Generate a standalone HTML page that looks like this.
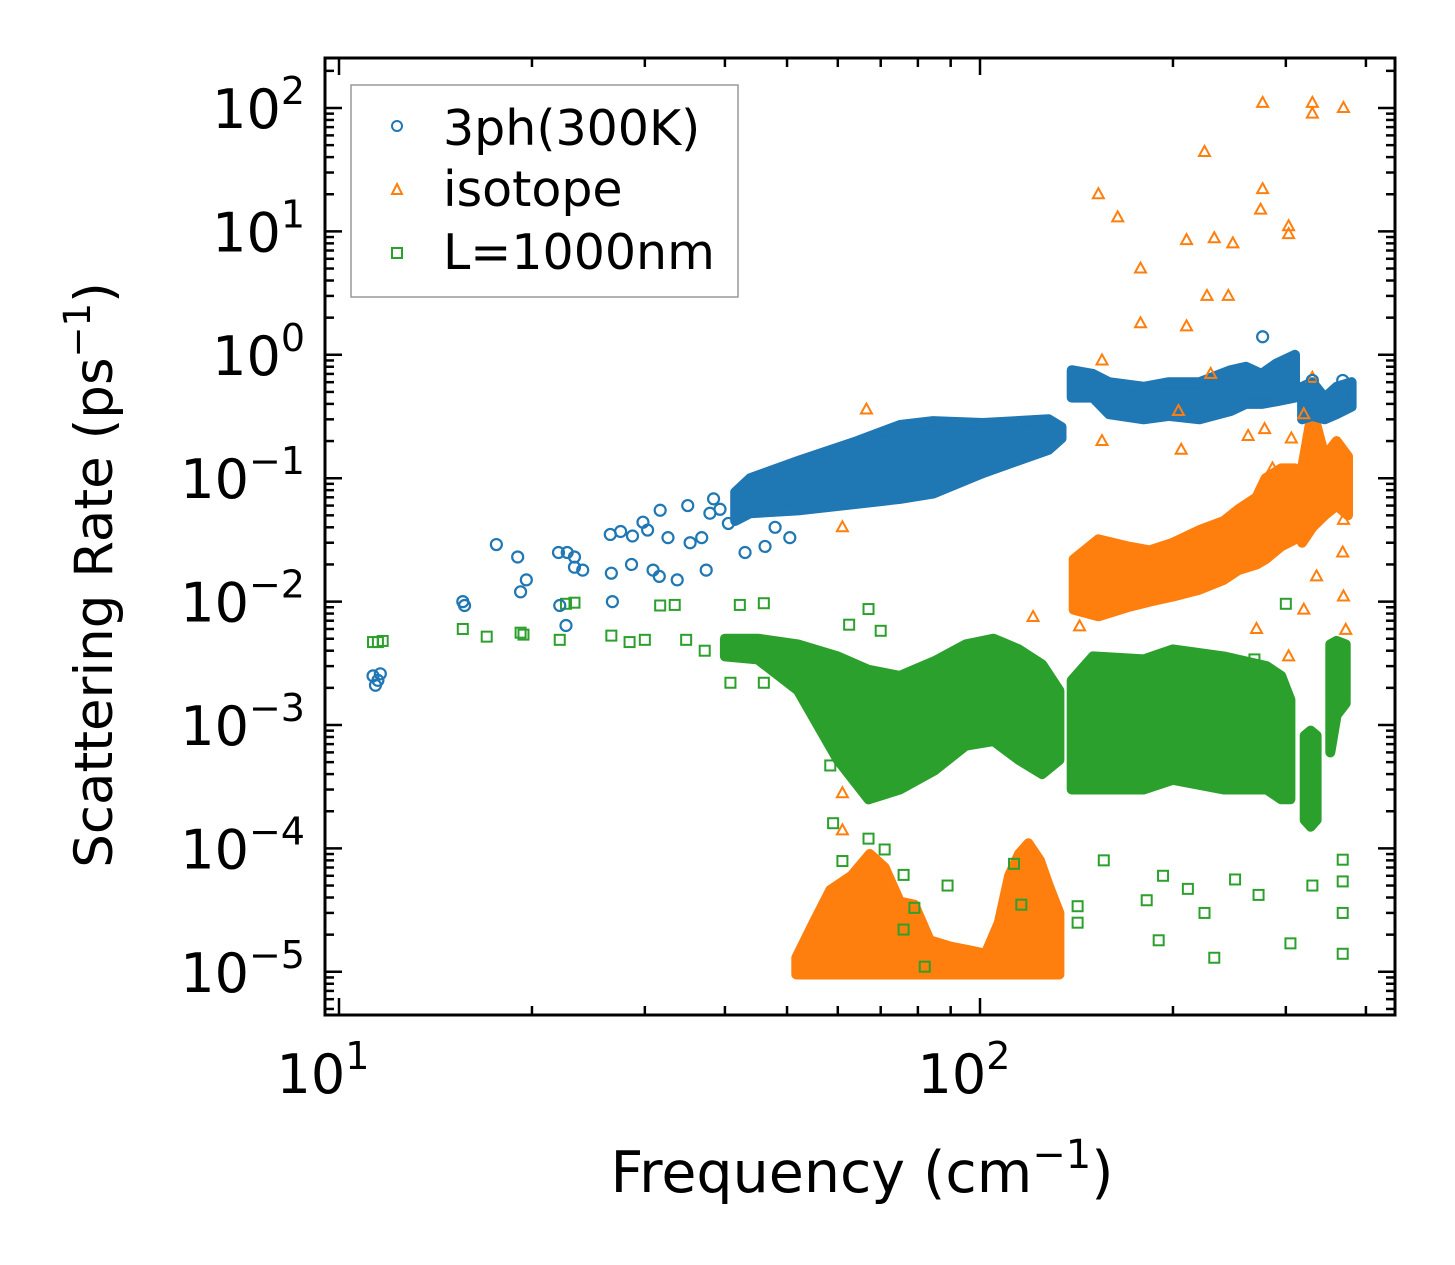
<!DOCTYPE html>
<html><head><meta charset="utf-8">
<style>
html,body{margin:0;padding:0;background:#fff;}
svg{display:block;font-family:"DejaVu Sans","Liberation Sans",sans-serif;}
</style></head>
<body>
<svg id="chart" width="1455" height="1265" viewBox="0 0 1455 1265" xmlns="http://www.w3.org/2000/svg">
<g id="bands"></g>
<g id="points"></g>
<g id="axes"></g>
<text x="112" y="575" font-size="53" text-anchor="middle" transform="rotate(-90 112 575)">Scattering Rate (ps<tspan dy="-22" font-size="37">−1</tspan><tspan dy="22">)</tspan></text>
<text x="862" y="1192" font-size="57" text-anchor="middle">Frequency (cm<tspan dy="-24" font-size="40">−1</tspan><tspan dy="24">)</tspan></text>
<g>
<rect x="351" y="85" width="387" height="212" fill="#fff" stroke="#999" stroke-width="1.5"/>
<circle cx="397" cy="126" r="5" fill="none" stroke="#1f77b4" stroke-width="2"/>
<text x="443" y="145" font-size="49">3ph(300K)</text>
<path d="M397,184 L402,194 L392,194 Z" fill="none" stroke="#ff7f0e" stroke-width="2"/>
<text x="443" y="206" font-size="49">isotope</text>
<rect x="392" y="248" width="10" height="10" fill="none" stroke="#2ca02c" stroke-width="2"/>
<text x="443" y="269" font-size="49">L=1000nm</text>
</g>
</svg>
<script>
// axis ticks
const xMajorTicks = [10, 100];
const xTickLabels = ["1", "2"];
const yMajorTicks = [-5, -4, -3, -2, -1, 0, 1, 2];
const yTickLabels = ["−5", "−4", "−3", "−2", "−1", "0", "1", "2"];

// 3ph (blue) sparse points
const blueFreq = [11.3,11.4,11.6,11.5,15.6,15.7,17.6,19.0,19.2,19.6,22.0,22.7,23.3,22.1,22.6,23.3,24.0,26.5,27.5,28.7,26.6,26.7,28.6,29.8,30.3,30.9,31.7,31.6,32.6,33.7,35.0,35.3,36.8,37.4,37.9,38.4,39.3,40.5,43.0,46.2,47.9,50.5,276,330,368];
const blueRate = [0.0025,0.0021,0.0026,0.0023,0.010,0.0093,0.029,0.023,0.012,0.015,0.025,0.025,0.023,0.0093,0.0064,0.019,0.018,0.035,0.037,0.034,0.017,0.010,0.020,0.044,0.038,0.018,0.055,0.016,0.033,0.015,0.060,0.030,0.033,0.018,0.052,0.068,0.056,0.043,0.025,0.028,0.040,0.033,1.4,0.62,0.62];
// 3ph dense bands
const blueAFreq = [41.5,43.8,52.4,64.3,75,84.5,101,128,134];
const blueAHi = [0.077,0.10,0.14,0.20,0.27,0.29,0.28,0.30,0.26];
const blueALo = [0.045,0.052,0.055,0.062,0.068,0.075,0.11,0.17,0.21];
const blueBFreq = [139,150,159,180,197,220,246,260,275,290,310];
const blueBHi = [0.75,0.7,0.6,0.55,0.6,0.6,0.75,0.8,0.7,0.85,1.0];
const blueBLo = [0.45,0.45,0.33,0.3,0.32,0.3,0.35,0.4,0.4,0.42,0.45];
const blueCFreq = [318,330,345,360,380];
const blueCHi = [0.55,0.6,0.45,0.55,0.6];
const blueCLo = [0.3,0.32,0.3,0.33,0.38];

// isotope (orange) sparse points
const orangeFreq = [153,164,178,178,210,210,224,232,248,226,244,276,276,274,303,303,330,330,369,155,155,204,206,229,262,278,286,306,320,330,66.5,61,142,143,121,303,320,372,369,368,335,270,369,61,61];
const orangeRate = [20,13,5,1.8,8.5,1.7,44,8.8,8,3,3,110,22,15,11,9.5,110,90,100,0.9,0.2,0.35,0.17,0.7,0.22,0.25,0.12,0.21,0.33,0.65,0.36,0.04,0.0095,0.0063,0.0075,0.0036,0.0086,0.0059,0.011,0.025,0.016,0.006,0.046,0.00014,0.00028];
// isotope dense bands
const orangeAFreq = [51.7,55,58.4,63,67.3,71,75,79,83.5,90,96,102,107,111,115,119,124,128,133];
const orangeAHi = [1.3e-5,2.5e-5,4.6e-5,6e-5,9e-5,7e-5,3.7e-5,3.5e-5,1.8e-5,1.6e-5,1.5e-5,1.4e-5,2.5e-5,6e-5,9e-5,1.1e-4,8e-5,5e-5,3e-5];
const orangeALo = [9.5e-6,9.5e-6,9.5e-6,9.5e-6,9.5e-6,9.5e-6,9.5e-6,9.5e-6,9.5e-6,9.5e-6,9.5e-6,9.5e-6,9.5e-6,9.5e-6,9.5e-6,9.5e-6,9.5e-6,9.5e-6,9.5e-6];
const orangeBFreq = [140,153,170,184,200,220,240,253,270,279,295,310];
const orangeBHi = [0.022,0.032,0.028,0.026,0.03,0.038,0.045,0.056,0.07,0.1,0.12,0.12];
const orangeBLo = [0.0086,0.0076,0.009,0.01,0.011,0.0125,0.015,0.018,0.02,0.022,0.028,0.032];
const orangeCFreq = [318,330,345,360,375];
const orangeCHi = [0.12,0.36,0.15,0.2,0.15];
const orangeCLo = [0.03,0.04,0.05,0.06,0.05];

// L=1000nm (green) sparse points
const greenFreq = [11.3,11.5,11.7,15.6,17.0,19.2,19.4,22.1,22.6,23.3,26.6,28.4,30,31.7,33.4,34.8,37.2,40.8,42.2,46,58.4,59,61,67,71,76,79,82,89,76,113,116,142,142,156,182,193,211,224,232,272,305,190,250,368,368,368,368,330,67,70,62.5,60,56,46,268,300,243];
const greenRate = [0.0047,0.0047,0.0048,0.006,0.0052,0.0056,0.0054,0.0049,0.0096,0.0098,0.0053,0.0047,0.0049,0.0093,0.0094,0.0049,0.004,0.0022,0.0094,0.0097,4.7e-4,1.6e-4,7.9e-5,1.2e-4,9.8e-5,6.1e-5,3.3e-5,1.1e-5,5e-5,2.2e-5,7.5e-5,3.5e-5,3.4e-5,2.5e-5,8e-5,3.8e-5,6e-5,4.7e-5,3e-5,1.3e-5,4.2e-5,1.7e-5,1.8e-5,5.6e-5,5.4e-5,3e-5,1.4e-5,8.1e-5,5e-5,0.0087,0.0058,0.0065,0.002,0.0016,0.0022,0.0034,0.0096,0.0034];
// green dense bands
const greenAFreq = [40,45,52,60,67,75,85,95,105,115,125,133];
const greenAHi = [0.005,0.005,0.0045,0.0036,0.0028,0.0025,0.0033,0.0045,0.005,0.0041,0.0031,0.0019];
const greenALo = [0.0036,0.0034,0.0019,5.2e-4,2.5e-4,3.0e-4,4.3e-4,6.8e-4,7.4e-4,5.2e-4,4.0e-4,5.2e-4];
const greenBFreq = [139,150,180,200,240,280,295,305];
const greenBHi = [0.0023,0.0036,0.0034,0.0041,0.0036,0.003,0.0025,0.0016];
const greenBLo = [3e-4,3e-4,3e-4,3.6e-4,3e-4,3e-4,2.5e-4,2.5e-4];
const greenCFreq = [321,328,335];
const greenCHi = [8.2e-4,9e-4,8.2e-4];
const greenCLo = [1.7e-4,1.5e-4,1.7e-4];
const greenDFreq = [352,360,372];
const greenDHi = [0.0045,0.0048,0.0045];
const greenDLo = [0.0006,0.0012,0.0015];

const NS = "http://www.w3.org/2000/svg";
const X0 = 339, XDEC = 641, YREF = 108, YDEC = 123.4;
const L = 325, R = 1395, T = 58, B = 1015;
function sx(f){ return X0 + XDEC * Math.log10(f / 10); }
function sy(r){ return YREF + YDEC * (2 - Math.log10(r)); }
function mk(tag, attrs, parent){
  const e = document.createElementNS(NS, tag);
  for (const k in attrs) e.setAttribute(k, attrs[k]);
  parent.appendChild(e);
  return e;
}

const bands = document.getElementById('bands');
function band(fr, lo, hi, color, name){
  let d = "M" + fr.map((f,i)=> sx(f).toFixed(1) + "," + sy(hi[i]).toFixed(1)).join(" L");
  for (let i = fr.length - 1; i >= 0; i--) d += " L" + sx(fr[i]).toFixed(1) + "," + sy(lo[i]).toFixed(1);
  d += " Z";
  const p = mk('path', {d: d, fill: color, stroke: color, 'stroke-width': 10, 'stroke-linejoin': 'round'}, bands);
  
  
}
band(greenAFreq, greenALo, greenAHi, '#2ca02c', 'boundary-cloud-low');
band(greenBFreq, greenBLo, greenBHi, '#2ca02c', 'boundary-cloud-mid');
band(greenCFreq, greenCLo, greenCHi, '#2ca02c', 'boundary-cloud-high-a');
band(greenDFreq, greenDLo, greenDHi, '#2ca02c', 'boundary-cloud-high-b');
band(orangeAFreq, orangeALo, orangeAHi, '#ff7f0e', 'isotope-cloud-low');
band(orangeBFreq, orangeBLo, orangeBHi, '#ff7f0e', 'isotope-cloud-mid');
band(orangeCFreq, orangeCLo, orangeCHi, '#ff7f0e', 'isotope-cloud-high');
band(blueAFreq, blueALo, blueAHi, '#1f77b4', 'threeph-cloud-low');
band(blueBFreq, blueBLo, blueBHi, '#1f77b4', 'threeph-cloud-mid');
band(blueCFreq, blueCLo, blueCHi, '#1f77b4', 'threeph-cloud-high');

const pts = document.getElementById('points');
greenFreq.forEach((f,i)=>{
  const x = sx(f), y = sy(greenRate[i]);
  const e = mk('rect', {x: x-5, y: y-5, width: 10, height: 10, fill: 'none', stroke: '#2ca02c', 'stroke-width': 2}, pts);
  
  
});
orangeFreq.forEach((f,i)=>{
  const x = sx(f), y = sy(orangeRate[i]);
  const e = mk('path', {d: `M${x},${y-6} L${x+5.5},${y+4} L${x-5.5},${y+4} Z`, fill: 'none', stroke: '#ff7f0e', 'stroke-width': 2}, pts);
  
  
});
blueFreq.forEach((f,i)=>{
  const e = mk('circle', {cx: sx(f), cy: sy(blueRate[i]), r: 5.5, fill: 'none', stroke: '#1f77b4', 'stroke-width': 2.2}, pts);
  
  
});

// axes
const ax = document.getElementById('axes');
const frame = mk('rect', {x: L, y: T, width: R-L, height: B-T, fill: 'none', stroke: '#000', 'stroke-width': 3}, ax);


function tick(x1,y1,x2,y2){ mk('line', {x1:x1,y1:y1,x2:x2,y2:y2,stroke:'#000','stroke-width':2.5}, ax); }
[10,100].forEach(base=>{
  for (let m = 1; m <= 9; m++){
    const x = sx(base * m);
    if (x < L || x > R) continue;
    const len = m === 1 ? 17 : 9;
    tick(x, B, x, B-len); tick(x, T, x, T+len);
  }
});
xMajorTicks.forEach((f,i)=>{
  const t = mk('text', {x: sx(f)-16, y: 1093, 'font-size': 54, 'text-anchor': 'middle'}, ax);
  
  
  t.innerHTML = `10<tspan dy="-24" font-size="38">${xTickLabels[i]}</tspan>`;
});
for (let e = -6; e <= 2; e++){
  for (let m = 1; m <= 9; m++){
    const y = sy(m * Math.pow(10, e));
    if (y < T || y > B) continue;
    const len = m === 1 ? 17 : 9;
    tick(L, y, L+len, y); tick(R, y, R-len, y);
  }
}
yMajorTicks.forEach((e,i)=>{
  const t = mk('text', {x: 305, y: sy(Math.pow(10, e)) + 20, 'font-size': 54, 'text-anchor': 'end'}, ax);
  
  
  t.innerHTML = `10<tspan dy="-24" font-size="38">${yTickLabels[i]}</tspan>`;
});
</script>
</body></html>
